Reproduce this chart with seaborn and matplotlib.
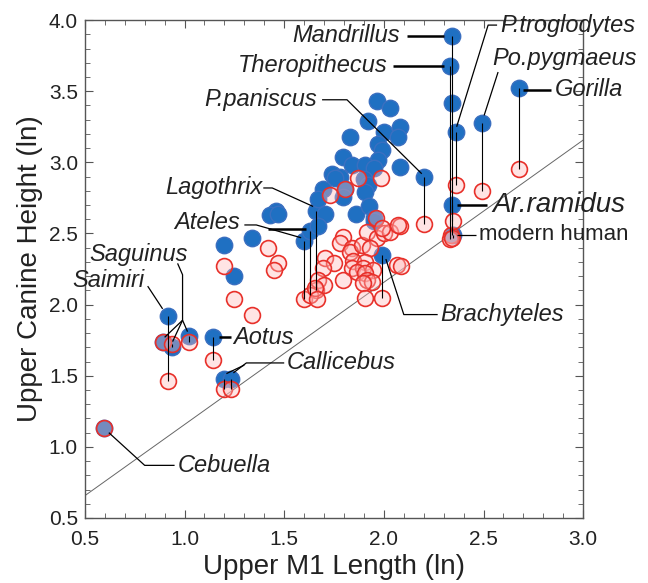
import numpy as np
import pandas as pd
import matplotlib
matplotlib.use('Agg')
import matplotlib.pyplot as plt
import seaborn as sns
from matplotlib.ticker import MultipleLocator

# especies etiquetadas: macho (azul) y hembra (rojo)
species = ['Mandrillus', 'Theropithecus', 'P.troglodytes', 'Po.pygmaeus', 'Gorilla',
           'P.paniscus', 'Ar.ramidus', 'modern human', 'Lagothrix', 'Ateles', 'Ateles',
           'Brachyteles', 'Saimiri', 'Saguinus', 'Saguinus', 'Saguinus', 'Aotus',
           'Callicebus', 'Callicebus', 'Cebuella']
male_x = [2.34, 2.33, 2.36, 2.49, 2.68, 2.20, 2.34, 2.345, 1.66, 1.60, 1.63,
          1.99, 0.915, 0.89, 0.935, 1.02, 1.145, 1.20, 1.235, 0.595]
male_y = [3.89, 3.68, 3.21, 3.28, 3.52, 2.90, 2.70, 2.49, 2.66, 2.45, 2.52,
          2.35, 1.92, 1.74, 1.70, 1.78, 1.77, 1.48, 1.48, 1.13]
female_x = [2.335, 2.33, 2.36, 2.49, 2.68, 2.20, 2.345, 2.34, 1.66, 1.60, 1.63,
            1.99, 0.915, 0.89, 0.935, 1.02, 1.145, 1.20, 1.235, 0.595]
female_y = [2.49, 2.46, 2.84, 2.80, 2.95, 2.57, 2.59, 2.47, 2.10, 2.04, 2.07,
            2.05, 1.46, 1.74, 1.72, 1.74, 1.61, 1.41, 1.41, 1.13]

# resto de especies (sin etiqueta)
other_male_x = [1.966, 2.03, 1.92, 2.08, 2.00, 2.07, 1.83, 1.97, 1.99, 1.795, 1.97,
                2.08, 1.84, 1.905, 1.95, 1.74, 1.78, 1.755, 1.90, 1.92, 1.805, 1.905,
                1.695, 1.67, 1.795, 1.705, 1.86, 1.925, 1.95, 1.46, 1.43, 1.47, 1.34,
                1.67, 1.95, 1.25, 1.20, 2.34]
other_male_y = [3.43, 3.38, 3.29, 3.25, 3.21, 3.18, 3.18, 3.13, 3.09, 3.04, 3.02,
                2.97, 2.98, 2.98, 2.96, 2.92, 2.90, 2.89, 2.88, 2.84, 2.81, 2.79,
                2.81, 2.74, 2.76, 2.64, 2.64, 2.69, 2.61, 2.66, 2.63, 2.64, 2.47,
                2.55, 2.59, 2.20, 2.42, 3.42]
other_female_x = [1.42, 1.47, 1.45, 1.25, 1.34, 1.20, 1.795, 1.78, 1.84, 1.83, 1.89,
                  1.915, 1.965, 2.00, 2.03, 2.08, 1.93, 1.845, 1.705, 1.75, 1.695,
                  1.84, 1.905, 1.895, 1.945, 1.865, 1.905, 1.795, 1.915, 1.94, 1.895,
                  2.065, 2.085, 1.67, 1.70, 1.655, 1.665, 1.905, 1.73, 1.805, 1.87,
                  1.985, 1.96, 1.99, 2.07]
other_female_y = [2.40, 2.29, 2.24, 2.04, 1.93, 2.27, 2.475, 2.43, 2.40, 2.37, 2.42,
                  2.51, 2.47, 2.50, 2.51, 2.55, 2.40, 2.31, 2.33, 2.29, 2.26,
                  2.26, 2.30, 2.26, 2.24, 2.23, 2.22, 2.17, 2.17, 2.16, 2.15,
                  2.28, 2.27, 2.17, 2.14, 2.12, 2.04, 2.05, 2.77, 2.81, 2.89,
                  2.89, 2.61, 2.54, 2.56]

# recta de referencia y = x + b
ref_intercept = 0.157

males = pd.DataFrame({'x': male_x + other_male_x, 'y': male_y + other_male_y})
females = pd.DataFrame({'x': female_x + other_female_x, 'y': female_y + other_female_y})

sns.set_style('ticks')
plt.rcParams['font.family'] = ['Liberation Sans Narrow', 'Liberation Sans', 'DejaVu Sans']

fig = plt.figure(figsize=(6.48, 5.83), dpi=100)
ax = fig.add_axes([0.131, 0.1115, 0.769, 0.854])

xs = np.array([0.5, 3.0])
ax.plot(xs, xs + ref_intercept, color='#666666', lw=0.7, zorder=1)

sns.scatterplot(data=males, x='x', y='y', ax=ax, s=140, color='#1f70c2',
                edgecolor='#3a6fc0', linewidth=1.0, zorder=2, legend=False)
sns.scatterplot(data=females, x='x', y='y', ax=ax, s=130,
                facecolor=(1.0, 0.72, 0.72, 0.38), edgecolor='#e8302a',
                linewidth=1.2, zorder=3, legend=False)

# líneas macho-hembra
ax.vlines(male_x, female_y, male_y, color='black', lw=0.8, zorder=4)

# etiquetas: (texto, x, y, ha, tamaño, cursiva, grosor guía, línea guía)
labels = [
    ('Mandrillus', 2.08, 3.89, 'right', 17, True, 1.8, [(2.115, 3.89), (2.30, 3.89)]),
    ('Theropithecus', 2.02, 3.68, 'right', 17, True, 1.8, [(2.046, 3.68), (2.30, 3.68)]),
    ('P.paniscus', 1.665, 3.44, 'right', 17, True, 0.9, [(1.69, 3.44), (1.815, 3.44), (2.19, 2.92)]),
    ('P.troglodytes', 2.585, 3.965, 'left', 17, True, 0.9, [(2.568, 3.965), (2.523, 3.965), (2.365, 3.25)]),
    ('Po.pygmaeus', 2.543, 3.73, 'left', 17, True, 0.9, [(2.573, 3.635), (2.503, 3.33)]),
    ('Gorilla', 2.86, 3.51, 'left', 17, True, 1.8, [(2.70, 3.51), (2.84, 3.51)]),
    ('Ar.ramidus', 2.543, 2.70, 'left', 20, True, 1.8, [(2.367, 2.70), (2.518, 2.70)]),
    ('modern human', 2.478, 2.49, 'left', 16, False, 0.9, [(2.367, 2.49), (2.46, 2.49)]),
    ('Lagothrix', 1.39, 2.82, 'right', 17, True, 0.9, [(1.395, 2.82), (1.44, 2.82), (1.645, 2.69)]),
    ('Ateles', 1.278, 2.58, 'right', 17, True, 0.9, [(1.30, 2.56), (1.36, 2.56), (1.585, 2.47)]),
    ('', 0, 0, 'left', 17, True, 1.8, [(1.42, 2.53), (1.61, 2.53)]),
    ('Brachyteles', 2.282, 1.93, 'left', 17, True, 0.9, [(2.27, 1.93), (2.10, 1.93), (2.01, 2.32)]),
    ('Saguinus', 1.015, 2.35, 'right', 17, True, 0.9, [(0.965, 2.29), (0.99, 2.21), (0.99, 1.89), (0.90, 1.77)]),
    ('', 0, 0, 'left', 17, True, 0.9, [(0.99, 1.89), (0.94, 1.74)]),
    ('', 0, 0, 'left', 17, True, 0.9, [(0.99, 1.89), (1.015, 1.81)]),
    ('Saimiri', 0.80, 2.17, 'right', 17, True, 0.9, [(0.815, 2.13), (0.89, 1.97)]),
    ('Aotus', 1.243, 1.77, 'left', 17, True, 1.8, [(1.175, 1.77), (1.233, 1.77)]),
    ('Callicebus', 1.514, 1.59, 'left', 17, True, 0.9, [(1.50, 1.59), (1.31, 1.59), (1.245, 1.52)]),
    ('', 0, 0, 'left', 17, True, 0.9, [(1.30, 1.575), (1.21, 1.515)]),
    ('Cebuella', 0.967, 0.87, 'left', 17, True, 0.9, [(0.62, 1.10), (0.80, 0.87), (0.95, 0.87)]),
]
for text, tx, ty, ha, size, italic, lw, guide in labels:
    gx, gy = zip(*guide)
    ax.plot(gx, gy, color='black', lw=lw, zorder=4, solid_capstyle='butt')
    if text:
        ax.text(tx, ty, text, ha=ha, va='center', fontsize=size, color='#222222',
                family=['Liberation Sans', 'DejaVu Sans'],
                style='italic' if italic else 'normal', zorder=5)

ax.set_xlim(0.5, 3.0)
ax.set_ylim(0.5, 4.0)
ax.xaxis.set_major_locator(MultipleLocator(0.5))
ax.xaxis.set_minor_locator(MultipleLocator(0.1))
ax.yaxis.set_major_locator(MultipleLocator(0.5))
ax.yaxis.set_minor_locator(MultipleLocator(0.1))
ax.tick_params(which='both', direction='in', top=True, right=True, colors='#555555',
               labelcolor='#222222', labelsize=15)
ax.tick_params(which='major', length=6)
ax.tick_params(which='minor', length=3.5)
ax.tick_params(axis='x', which='major', pad=9)
ax.tick_params(axis='y', which='major', pad=5)
for sp in ax.spines.values():
    sp.set_color('#555555')
    sp.set_linewidth(1.0)

ax.set_xlabel('Upper M1 Length (ln)', fontsize=20, color='#222222', labelpad=3,
              family=['Liberation Sans', 'DejaVu Sans'])
ax.set_ylabel('Upper Canine Height (ln)', fontsize=20, color='#222222', labelpad=4,
              family=['Liberation Sans', 'DejaVu Sans'])

fig.savefig('out.png', dpi=100)
